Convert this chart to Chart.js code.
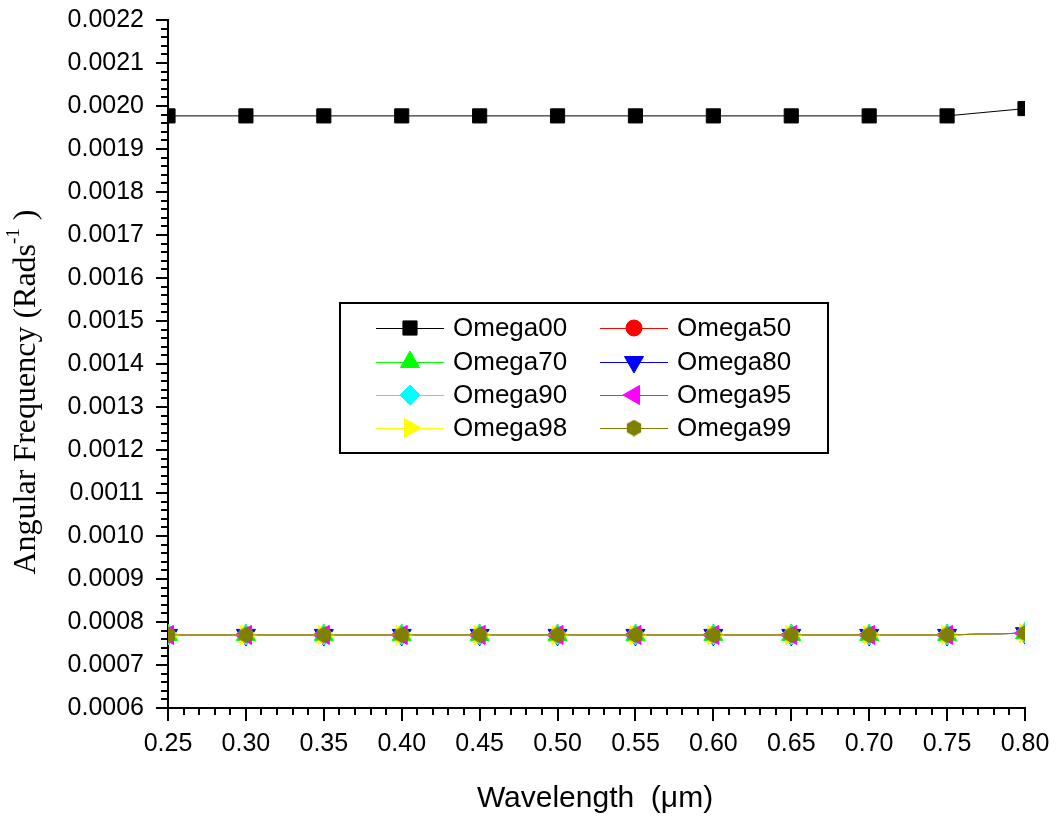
<!DOCTYPE html>
<html>
<head>
<meta charset="utf-8">
<script src="https://cdn.jsdelivr.net/npm/chart.js@4/dist/chart.umd.min.js"></script>
<style>
  body { margin: 0; background: #fff; }
  #wrap { width: 1058px; height: 818px; position: relative; }
</style>
</head>
<body>
<div id="wrap"><canvas id="chart"></canvas></div>
<script>
// wavelength (um) on x
const wavelengths = [0.25, 0.30, 0.35, 0.40, 0.45, 0.50, 0.55, 0.60, 0.65, 0.70, 0.75, 0.80];

// angular frequency (rad/s) per series
const omega00 = [0.001977, 0.001977, 0.001977, 0.001977, 0.001977, 0.001977, 0.001977, 0.001977, 0.001977, 0.001977, 0.001977, 0.001994];
const omega50 = [0.000770, 0.000770, 0.000770, 0.000770, 0.000770, 0.000770, 0.000770, 0.000770, 0.000770, 0.000770, 0.000770, 0.000774];
const omega70 = [0.000770, 0.000770, 0.000770, 0.000770, 0.000770, 0.000770, 0.000770, 0.000770, 0.000770, 0.000770, 0.000770, 0.000774];
const omega80 = [0.000770, 0.000770, 0.000770, 0.000770, 0.000770, 0.000770, 0.000770, 0.000770, 0.000770, 0.000770, 0.000770, 0.000774];
const omega90 = [0.000770, 0.000770, 0.000770, 0.000770, 0.000770, 0.000770, 0.000770, 0.000770, 0.000770, 0.000770, 0.000770, 0.000774];
const omega95 = [0.000770, 0.000770, 0.000770, 0.000770, 0.000770, 0.000770, 0.000770, 0.000770, 0.000770, 0.000770, 0.000770, 0.000774];
const omega98 = [0.000770, 0.000770, 0.000770, 0.000770, 0.000770, 0.000770, 0.000770, 0.000770, 0.000770, 0.000770, 0.000770, 0.000774];
const omega99 = [0.000770, 0.000770, 0.000770, 0.000770, 0.000770, 0.000770, 0.000770, 0.000770, 0.000770, 0.000770, 0.000770, 0.000774];

const seriesNames = ['Omega00', 'Omega50', 'Omega70', 'Omega80', 'Omega90', 'Omega95', 'Omega98', 'Omega99'];

const SANS = '"Liberation Sans", Arial, sans-serif';
const SERIF = '"Liberation Serif", "Times New Roman", serif';

// hexagon marker (Chart.js has none)
function hexagon(color) {
    const c = document.createElement('canvas');
    c.width = 16; c.height = 17;
    const g = c.getContext('2d');
    g.fillStyle = color;
    g.beginPath();
    for (let i = 0; i < 6; i++) {
        const a = Math.PI / 3 * i;
        const px = 8 + Math.sin(a) * 8.3;
        const py = 8.5 - Math.cos(a) * 8.3;
        if (i === 0) g.moveTo(px, py); else g.lineTo(px, py);
    }
    g.closePath();
    g.fill();
    return c;
}

function series(label, data, color, style, radius, rotation) {
    return {
        label: label,
        data: data.map((v, i) => ({ x: wavelengths[i], y: v })),
        borderColor: color,
        backgroundColor: color,
        pointBackgroundColor: color,
        pointBorderColor: color,
        pointBorderWidth: 1,
        borderWidth: 1,
        pointStyle: style,
        pointRadius: radius,
        pointRotation: rotation || 0,
        tension: 0,
        fill: false
    };
}

const datasets = [
    series(seriesNames[0], omega00, '#000000', 'rect', 10),
    series(seriesNames[1], omega50, '#ff0000', 'circle', 8),
    series(seriesNames[2], omega70, '#00ff00', 'triangle', 11),
    series(seriesNames[3], omega80, '#0000ff', 'triangle', 11, 180),
    series(seriesNames[4], omega90, '#00ffff', 'rectRot', 10),
    series(seriesNames[5], omega95, '#ff00ff', 'triangle', 11, -90),
    series(seriesNames[6], omega98, '#ffff00', 'triangle', 11, 90),
    series(seriesNames[7], omega99, '#808000', hexagon('#808000'), 8)
];
// later series drawn on top
datasets.forEach((d, i) => { d.order = datasets.length - i; });

const minorTicks = {
    id: 'minorTicks',
    afterDraw(chart) {
        const ctx = chart.ctx;
        const xs = chart.scales.x, ys = chart.scales.y;
        const a = chart.chartArea;
        ctx.save();
        ctx.strokeStyle = '#000';
        ctx.lineWidth = 2;
        ctx.beginPath();
        for (let i = 25; i <= 80; i++) {
            if (i % 5 === 0) continue;
            const px = Math.round(xs.getPixelForValue(i / 100));
            ctx.moveTo(px, a.bottom);
            ctx.lineTo(px, a.bottom + 7);
        }
        for (let j = 30; j <= 110; j++) {
            if (j % 5 === 0) continue;
            const py = Math.round(ys.getPixelForValue(j / 50000));
            ctx.moveTo(a.left - 7, py);
            ctx.lineTo(a.left, py);
        }
        ctx.stroke();
        ctx.restore();
    }
};

const axisTitles = {
    id: 'axisTitles',
    afterDraw(chart) {
        const ctx = chart.ctx;
        ctx.save();
        ctx.fillStyle = '#000';
        ctx.textBaseline = 'alphabetic';
        ctx.font = '30px ' + SANS;
        ctx.textAlign = 'center';
        ctx.fillText('Wavelength  (\u03bcm)', 595, 807);

        // y title with superscript
        const main = 'Angular Frequency (Rads';
        const sup = '-1';
        const tail = ' )';
        ctx.font = '32px ' + SERIF;
        const w1 = ctx.measureText(main).width;
        const w3 = ctx.measureText(tail).width;
        ctx.font = '19px ' + SERIF;
        const w2 = ctx.measureText(sup).width;
        const total = w1 + w2 + w3;
        ctx.translate(35, 392);
        ctx.rotate(-Math.PI / 2);
        ctx.textAlign = 'left';
        let u = -total / 2;
        ctx.font = '32px ' + SERIF;
        ctx.fillText(main, u, 0);
        u += w1;
        ctx.font = '19px ' + SERIF;
        ctx.fillText(sup, u, -16);
        u += w2;
        ctx.font = '32px ' + SERIF;
        ctx.fillText(tail, u, 0);
        ctx.restore();
    }
};

const boxLegend = {
    id: 'boxLegend',
    afterDraw(chart) {
        const ctx = chart.ctx;
        ctx.save();
        ctx.strokeStyle = '#000';
        ctx.lineWidth = 2;
        ctx.fillStyle = '#fff';
        ctx.fillRect(340, 303, 488, 150);
        ctx.strokeRect(340, 303, 488, 150);
        const cols = [376, 600];
        const rows = [328, 362, 395, 428];
        ctx.font = '26px ' + SANS;
        ctx.textBaseline = 'middle';
        ctx.textAlign = 'left';
        chart.data.datasets.forEach((d, i) => {
            const cx = cols[i % 2];
            const cy = rows[Math.floor(i / 2)];
            ctx.strokeStyle = d.borderColor;
            ctx.lineWidth = 1;
            ctx.beginPath();
            ctx.moveTo(cx, cy + 0.5);
            ctx.lineTo(cx + 68, cy + 0.5);
            ctx.stroke();
            ctx.fillStyle = d.pointBackgroundColor;
            ctx.strokeStyle = d.pointBorderColor;
            Chart.helpers.drawPoint(ctx, {
                pointStyle: d.pointStyle,
                rotation: d.pointRotation,
                radius: d.pointRadius,
                borderWidth: 1
            }, cx + 34, cy);
            ctx.fillStyle = '#000';
            ctx.fillText(d.label, cx + 77, cy + 1);
        });
        ctx.restore();
    }
};

new Chart(document.getElementById('chart'), {
    type: 'line',
    data: { datasets: datasets },
    options: {
        responsive: true,
        maintainAspectRatio: false,
        animation: false,
        layout: { padding: { top: 20, right: 33, left: 0, bottom: 0 } },
        plugins: {
            legend: { display: false },
            tooltip: { enabled: false }
        },
        scales: {
            x: {
                type: 'linear',
                min: 0.25,
                max: 0.80,
                ticks: {
                    stepSize: 0.05,
                    callback: v => v.toFixed(2),
                    font: { family: SANS, size: 25 },
                    color: '#000',
                    padding: 8,
                    maxRotation: 0,
                    autoSkip: false
                },
                grid: { drawOnChartArea: false, tickLength: 13, color: '#000', lineWidth: 2 },
                border: { color: '#000', width: 2 },
                afterFit: s => { s.height = 110; s.paddingLeft = 0; s.paddingRight = 0; }
            },
            y: {
                min: 0.0006,
                max: 0.0022,
                ticks: {
                    stepSize: 0.0001,
                    callback: v => v.toFixed(4),
                    font: { family: SANS, size: 25 },
                    color: '#000',
                    padding: 12,
                    autoSkip: false
                },
                grid: { drawOnChartArea: false, tickLength: 12, color: '#000', lineWidth: 2 },
                border: { color: '#000', width: 2 },
                afterFit: s => { s.width = 168; s.paddingTop = 0; s.paddingBottom = 0; }
            }
        }
    },
    plugins: [minorTicks, axisTitles, boxLegend]
});
</script>
</body>
</html>
